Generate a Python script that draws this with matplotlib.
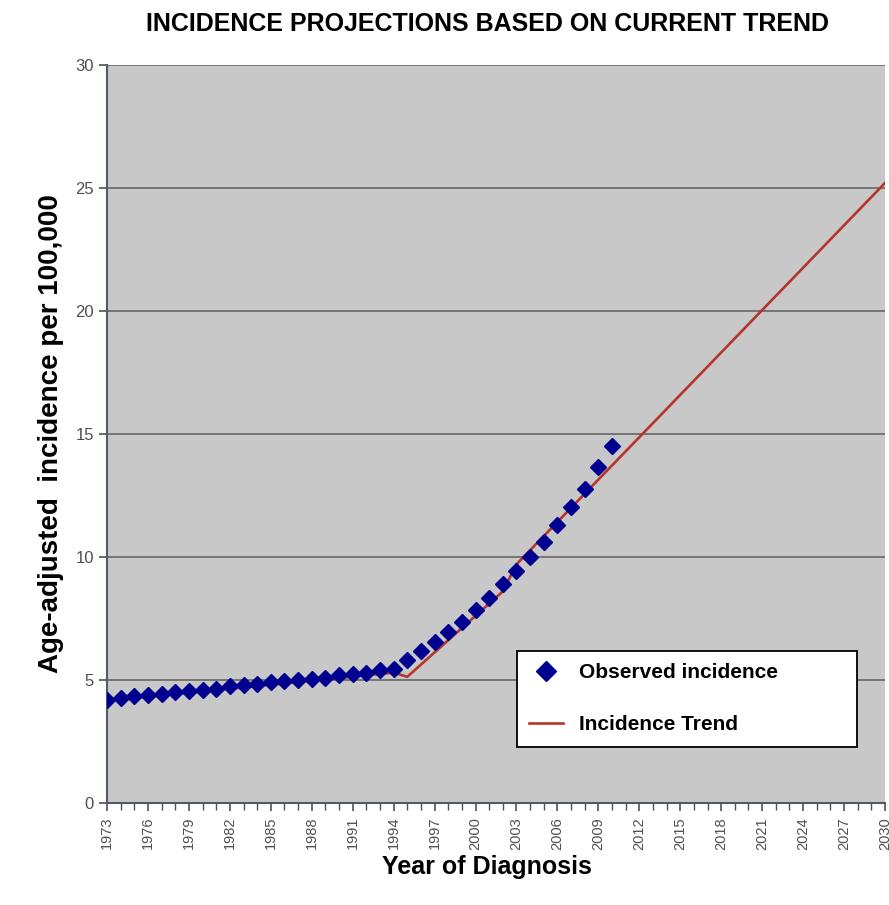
import numpy as np
import matplotlib
matplotlib.use("Agg")
import matplotlib.pyplot as plt
from matplotlib.ticker import MultipleLocator

plt.rcParams['font.family'] = ['Liberation Sans', 'DejaVu Sans']

# observed incidence, 1973-2010
obs_years = list(range(1973, 2011))
obs_values = [4.20, 4.25, 4.35, 4.40, 4.45, 4.50, 4.55, 4.60, 4.65, 4.75,
              4.80, 4.85, 4.90, 4.95, 5.00, 5.05, 5.10, 5.20, 5.25, 5.30,
              5.40, 5.45, 5.81, 6.18, 6.55, 6.96, 7.37, 7.85, 8.32, 8.89,
              9.43, 10.00, 10.62, 11.30, 12.02, 12.76, 13.64, 14.52]

# joinpoint trend + projection
trend_years = [1973, 1994, 1995, 2002, 2003, 2030]
trend_values = [4.15, 5.30, 5.13, 8.60, 9.70, 25.20]

xtick_years = list(range(1973, 2031, 3))

fig = plt.figure(figsize=(8.89, 9.05), dpi=100)
ax = fig.add_axes([0.1204, 0.1127, 0.875, 0.8155])
ax.set_facecolor('#c8c8c8')

ax.plot(trend_years, trend_values, color='#b5352c', linewidth=1.9,
        label='Incidence Trend', zorder=3)
ax.plot(obs_years, obs_values, linestyle='none', marker='D', markersize=8.5,
        color='#000090', label='Observed incidence', zorder=4)

ax.set_xlim(1973, 2030)
ax.set_ylim(0, 30)
ax.set_xticks(xtick_years)
ax.set_xticklabels([str(y) for y in xtick_years], rotation=90)
ax.xaxis.set_minor_locator(MultipleLocator(1))
ax.yaxis.set_major_locator(MultipleLocator(5))
ax.yaxis.grid(True, color='#6e6e6e', linewidth=1.3)
ax.set_axisbelow(True)

for s in ['left', 'bottom']:
    ax.spines[s].set_color('#505a6a')
    ax.spines[s].set_linewidth(1.5)
ax.spines['right'].set_visible(False)
ax.spines['top'].set_visible(False)

ax.tick_params(axis='y', labelsize=12, colors='#505050', length=6, width=1.2)
ax.tick_params(axis='x', which='major', labelsize=10.5, colors='#505050',
               length=6, width=1.2, pad=4)
ax.tick_params(axis='x', which='minor', length=5, width=1, color='#505050')

ax.set_xlabel('Year of Diagnosis', fontsize=18, fontweight='bold')
ax.xaxis.set_label_coords(0.488, -0.07)
ax.set_ylabel('Age-adjusted  incidence per 100,000', fontsize=20,
              fontweight='bold', labelpad=8)
fig.text(0.548, 0.973, 'INCIDENCE PROJECTIONS BASED ON CURRENT TREND',
         ha='center', va='center', fontsize=18, fontweight='bold')

handles, labels = ax.get_legend_handles_labels()
leg = ax.legend(handles[::-1], labels[::-1], loc='lower left',
                bbox_to_anchor=(0.527, 0.076, 0.437, 0.141), mode='expand',
                borderaxespad=0, fancybox=False, framealpha=1,
                edgecolor='black', prop={'size': 15, 'weight': 'bold'},
                borderpad=0.6, labelspacing=1.6, handlelength=1.6,
                markerscale=1.2)
leg.get_frame().set_linewidth(1.3)

fig.savefig('out.png', dpi=100)
